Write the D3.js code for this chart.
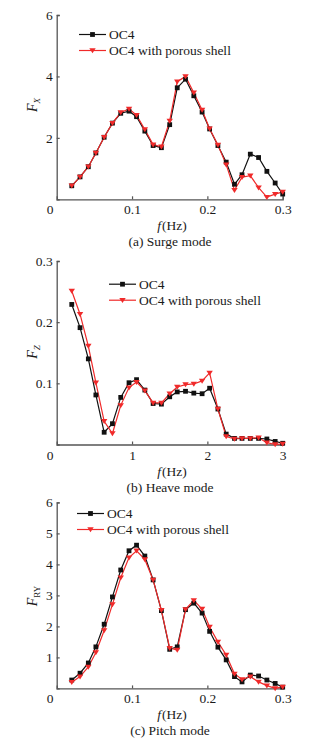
<!DOCTYPE html>
<html lang="en">
<head>
<meta charset="UTF-8">
<title>OC4 wave force RAO</title>
<script src="https://d3js.org/d3.v7.min.js"></script>
<style>
  body { margin: 0; background: #fff; }
  svg text { font-family: "Liberation Serif", "Times New Roman", serif; fill: #1a1a1a; }
</style>
</head>
<body>
<svg id="chart" width="335" height="738"></svg>
<script>
// frequencies (Hz)
const freqLow = [0.020,0.031,0.042,0.052,0.063,0.074,0.085,0.096,0.106,0.117,0.128,0.139,0.150,0.160,0.171,0.182,0.193,0.203,0.214,0.225,0.236,0.246,0.257,0.268,0.279,0.290,0.300];
const freqHeave = [0.20,0.31,0.42,0.52,0.63,0.74,0.85,0.96,1.06,1.17,1.28,1.39,1.50,1.60,1.71,1.82,1.93,2.03,2.14,2.25,2.36,2.46,2.57,2.68,2.79,2.90,3.00];

const seriesNames = ["OC4", "OC4 with porous shell"];

// (a) surge
const surgeOC4 = [0.44,0.73,1.06,1.51,2.02,2.48,2.80,2.87,2.69,2.22,1.75,1.68,2.43,3.63,3.91,3.37,2.84,2.29,1.75,1.21,0.49,0.80,1.47,1.36,0.91,0.53,0.17];
const surgePorous = [0.44,0.73,1.06,1.51,2.02,2.48,2.83,2.94,2.74,2.27,1.78,1.71,2.55,3.83,4.00,3.47,2.91,2.30,1.77,1.13,0.30,0.72,0.77,0.38,0.07,0.17,0.24];

// (b) heave
const heaveOC4 = [0.229,0.191,0.140,0.081,0.020,0.034,0.077,0.101,0.106,0.089,0.067,0.066,0.078,0.086,0.087,0.084,0.083,0.092,0.058,0.017,0.010,0.010,0.010,0.010,0.009,0.005,0.002];
const heavePorous = [0.251,0.213,0.161,0.101,0.038,0.018,0.064,0.093,0.102,0.088,0.068,0.068,0.083,0.094,0.098,0.099,0.104,0.117,0.058,0.013,0.009,0.010,0.010,0.011,0.003,0.000,0.001];

// (c) pitch
const pitchOC4 = [0.27,0.49,0.82,1.34,2.07,2.95,3.82,4.44,4.62,4.27,3.50,2.51,1.26,1.34,2.54,2.75,2.43,1.84,1.33,0.92,0.38,0.21,0.43,0.40,0.27,0.16,0.04];
const pitchPorous = [0.20,0.38,0.69,1.16,1.87,2.71,3.57,4.22,4.44,4.16,3.50,2.52,1.30,1.24,2.55,2.84,2.56,1.98,1.50,1.08,0.47,0.29,0.38,0.21,0.09,0.00,0.05];

const svg = d3.select("#chart");
const fs = 13.5;
const axisColor = "#555";

function drawPanel(p) {
    const g = svg.append("g");

    const x = d3.scaleLinear().domain([0, p.xMax]).range([56.7, 282.7]);
    const y = d3.scaleLinear().domain([0, p.yMax]).range([p.yBottom, p.yTop]);

    // axes, ticks pointing inward
    const xAxis = d3.axisBottom(x).tickValues(p.xTicks).tickSize(-3).tickPadding(7)
        .tickFormat(d3.format(p.xFmt));
    const yAxis = d3.axisLeft(y).tickValues(p.yTicks).tickSize(-3).tickPadding(4)
        .tickFormat(d3.format(p.yFmt));

    const gx = g.append("g").attr("transform", "translate(0," + p.yBottom + ")").call(xAxis);
    const gy = g.append("g").attr("transform", "translate(56.7,0)").call(yAxis);
    [gx, gy].forEach(a => {
        a.select(".domain").attr("stroke", axisColor).attr("stroke-width", 1.3);
        a.selectAll(".tick line").attr("stroke", axisColor).attr("stroke-width", 1.2);
        a.selectAll(".tick text").style("font-family", "Liberation Serif").style("font-size", fs + "px").attr("fill", "#1a1a1a");
    });
    gx.selectAll(".tick text").attr("dy", "0.6em");

    // origin label
    g.append("text").attr("x", 50).attr("y", p.yBottom + 15)
        .attr("text-anchor", "middle").style("font-size", fs + "px").text("0");

    // lines + markers
    const line = d3.line().x((d, i) => x(p.freq[i])).y(d => y(d));
    const sets = [
        { vals: p.a, color: "#111", mark: "square" },
        { vals: p.b, color: "#f02a2a", mark: "tri" }
    ];
    sets.forEach(s => {
        g.append("path").attr("d", line(s.vals)).attr("fill", "none")
            .attr("stroke", s.color).attr("stroke-width", 1.2);
    });
    sets.forEach(s => {
        g.selectAll(null).data(s.vals).enter().append("path")
            .attr("d", s.mark === "square" ? "M-2.4,-2.4h4.8v4.8h-4.8Z" : "M-3.2,-2.2L3.2,-2.2L0,2.8Z")
            .attr("transform", (d, i) => "translate(" + x(p.freq[i]) + "," + y(d) + ")")
            .attr("fill", s.color);
    });

    // legend
    sets.forEach((s, i) => {
        const ly = p.legY + i * 16;
        g.append("line").attr("x1", p.legX).attr("x2", p.legX + 27)
            .attr("y1", ly).attr("y2", ly).attr("stroke", s.color).attr("stroke-width", 1.2);
        g.append("path")
            .attr("d", s.mark === "square" ? "M-2.4,-2.4h4.8v4.8h-4.8Z" : "M-3.2,-2.2L3.2,-2.2L0,2.8Z")
            .attr("transform", "translate(" + (p.legX + 13.5) + "," + ly + ")")
            .attr("fill", s.color);
        g.append("text").attr("x", p.legX + 30).attr("y", ly + 4.5)
            .style("font-size", fs + "px").text(seriesNames[i]);
    });

    // axis titles
    const xt = g.append("text").attr("x", 172).attr("y", p.yBottom + 31)
        .attr("text-anchor", "middle").style("font-size", fs + "px");
    xt.append("tspan").style("font-style", "italic").text("f");
    xt.append("tspan").attr("dx", 1).text("(Hz)");

    const yt = g.append("text")
        .attr("transform", "translate(37," + p.yTitle + ") rotate(-90)")
        .attr("text-anchor", "middle").style("font-size", "14px");
    yt.append("tspan").style("font-style", "italic").text("F");
    yt.append("tspan").attr("dy", 3).style("font-size", "9px")
        .style("font-style", p.subItalic ? "italic" : "normal").text(p.sub);

    // caption
    g.append("text").attr("x", 170).attr("y", p.yBottom + 47)
        .attr("text-anchor", "middle").style("font-size", fs + "px").text(p.caption);
}

drawPanel({
    freq: freqLow, a: surgeOC4, b: surgePorous,
    xMax: 0.3, xTicks: [0.1, 0.2, 0.3], xFmt: ".1f",
    yMax: 6, yTicks: [2, 4, 6], yFmt: "d",
    yBottom: 199.3, yTop: 15,
    legX: 79, legY: 34.5,
    sub: "X", subItalic: true, yTitle: 105,
    caption: "(a) Surge mode"
});

drawPanel({
    freq: freqHeave, a: heaveOC4, b: heavePorous,
    xMax: 3, xTicks: [1, 2, 3], xFmt: "d",
    yMax: 0.3, yTicks: [0.1, 0.2, 0.3], yFmt: ".1f",
    yBottom: 444.5, yTop: 261,
    legX: 109, legY: 284.2,
    sub: "Z", subItalic: true, yTitle: 352,
    caption: "(b) Heave mode"
});

drawPanel({
    freq: freqLow, a: pitchOC4, b: pitchPorous,
    xMax: 0.3, xTicks: [0.1, 0.2, 0.3], xFmt: ".1f",
    yMax: 6, yTicks: [1, 2, 3, 4, 5, 6], yFmt: "d",
    yBottom: 688.4, yTop: 502.4,
    legX: 77, legY: 513.5,
    sub: "RY", subItalic: false, yTitle: 596,
    caption: "(c) Pitch mode"
});
</script>
</body>
</html>
